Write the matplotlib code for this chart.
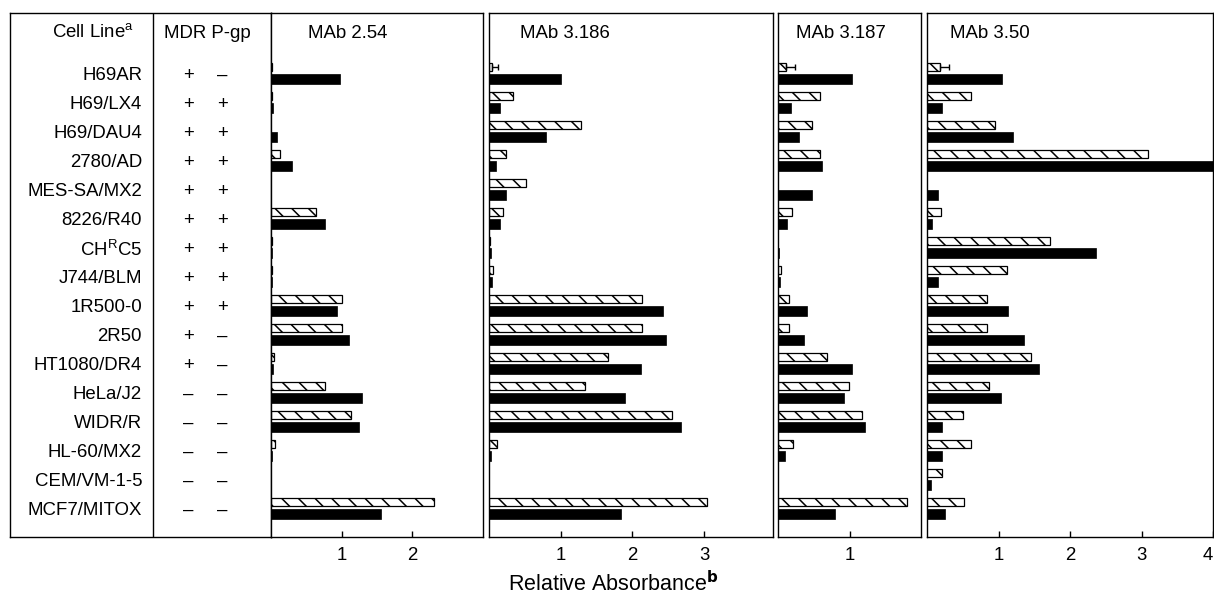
import numpy as np
import matplotlib
matplotlib.use("Agg")
import matplotlib.pyplot as plt

plt.rcParams['font.family'] = ['Liberation Sans', 'DejaVu Sans']
plt.rcParams['hatch.linewidth'] = 1.1

cell_lines = ["H69AR", "H69/LX4", "H69/DAU4", "2780/AD", "MES-SA/MX2", "8226/R40",
              r"CH$^{\mathregular{R}}$C5", "J744/BLM", "1R500-0", "2R50", "HT1080/DR4",
              "HeLa/J2", "WIDR/R", "HL-60/MX2", "CEM/VM-1-5", "MCF7/MITOX"]
mdr = ["+"] * 11 + ["\u2013"] * 5
pgp = ["\u2013", "+", "+", "+", "+", "+", "+", "+", "+", "\u2013", "\u2013",
       "\u2013", "\u2013", "\u2013", "\u2013", "\u2013"]

panel_titles = ["MAb 2.54", "MAb 3.186", "MAb 3.187", "MAb 3.50"]
panel_xmax = [3.0, 3.96, 2.0, 4.0]
panel_ticks = [[1, 2], [1, 2, 3], [1], [1, 2, 3, 4]]

mab254_hatched = [0.02, 0.01, 0.0, 0.13, 0.0, 0.64, 0.02, 0.01, 1.01, 1.01, 0.04, 0.76, 1.13, 0.05, 0.0, 2.31]
mab254_black = [0.97, 0.03, 0.08, 0.30, 0.0, 0.76, 0.02, 0.02, 0.94, 1.10, 0.03, 1.29, 1.24, 0.02, 0.0, 1.56]
mab3186_hatched = [0.04, 0.33, 1.28, 0.24, 0.52, 0.20, 0.02, 0.05, 2.13, 2.13, 1.66, 1.34, 2.55, 0.11, 0.0, 3.04]
mab3186_black = [1.00, 0.15, 0.79, 0.10, 0.24, 0.16, 0.03, 0.04, 2.43, 2.47, 2.12, 1.90, 2.68, 0.03, 0.0, 1.84]
mab3187_hatched = [0.11, 0.59, 0.48, 0.59, 0.0, 0.20, 0.0, 0.04, 0.16, 0.16, 0.68, 0.99, 1.18, 0.21, 0.0, 1.80]
mab3187_black = [1.03, 0.18, 0.30, 0.62, 0.48, 0.13, 0.02, 0.03, 0.41, 0.36, 1.03, 0.92, 1.21, 0.10, 0.0, 0.80]
mab350_hatched = [0.18, 0.62, 0.95, 3.09, 0.0, 0.20, 1.72, 1.12, 0.84, 0.84, 1.45, 0.87, 0.50, 0.62, 0.21, 0.52]
mab350_black = [1.05, 0.21, 1.20, 4.00, 0.16, 0.07, 2.36, 0.15, 1.13, 1.36, 1.57, 1.03, 0.21, 0.21, 0.06, 0.25]
h69ar_hatched_err = [0.0, 0.09, 0.13, 0.13]

hatched_sets = [mab254_hatched, mab3186_hatched, mab3187_hatched, mab350_hatched]
black_sets = [mab254_black, mab3186_black, mab3187_black, mab350_black]

W, H = 1214, 595
fig = plt.figure(figsize=(W / 100, H / 100), dpi=100)
TOP, BOT = 13, 537
ytop = (TOP - 67) / 29.0
ybot = (BOT - 67) / 29.0
n = len(cell_lines)
rows = np.arange(n)
FS = 13.4


def rect(x0, x1):
    return [x0 / W, 1 - BOT / H, (x1 - x0) / W, (BOT - TOP) / H]


# Table part
axt = fig.add_axes(rect(10, 271))
axt.set_xlim(10, 271)
axt.set_ylim(ybot, ytop)
axt.set_xticks([])
axt.set_yticks([])
for s in axt.spines.values():
    s.set_linewidth(1.0)
axt.axvline(153, color='black', lw=1.0)
axt.text(93, (33 - 67) / 29.0, r"Cell Line$^{\mathregular{a}}$", ha='center', va='center', fontsize=FS)
axt.text(207, (33 - 67) / 29.0, "MDR P-gp", ha='center', va='center', fontsize=FS)
for i in range(n):
    yl = i + 0.30
    axt.text(142, yl, cell_lines[i], ha='right', va='center', fontsize=FS)
    axt.text(188, yl, mdr[i], ha='center', va='center', fontsize=FS)
    axt.text(222, yl, pgp[i], ha='center', va='center', fontsize=FS)

panel_px = [(271, 483), (489, 773), (778, 921), (927, 1213)]
title_px = [308, 520, 796, 950]

for k in range(4):
    ax = fig.add_axes(rect(*panel_px[k]))
    ax.set_xlim(0, panel_xmax[k])
    ax.set_ylim(ybot, ytop)
    hv = np.array(hatched_sets[k])
    bv = np.array(black_sets[k])
    mh = hv > 0
    mb = bv > 0
    ax.barh(rows[mh], hv[mh], height=0.27, left=0, color='white', edgecolor='black',
            linewidth=0.9, hatch='\\\\', align='center')
    ax.barh(rows[mb] + 0.40, bv[mb], height=0.34, left=0, color='black', edgecolor='black',
            linewidth=0.5, align='center')
    if h69ar_hatched_err[k] > 0:
        ax.errorbar([hatched_sets[k][0]], [0], xerr=[[0], [h69ar_hatched_err[k]]],
                    fmt='none', ecolor='black', elinewidth=1.0, capsize=2.5, capthick=1.0)
    ax.set_yticks([])
    ax.set_xticks(panel_ticks[k])
    ax.set_xticklabels([str(t) for t in panel_ticks[k]], fontsize=FS)
    ax.tick_params(axis='x', direction='in', length=4, width=1.0, pad=7)
    for s in ax.spines.values():
        s.set_linewidth(1.0)
    if k == 3:
        ax.get_xticklabels()[-1].set_horizontalalignment('right')
    fig.text(title_px[k] / W, 1 - 34 / H, panel_titles[k], ha='left', va='center', fontsize=FS)

fig.text(613 / W, 1 - 584 / H, r"Relative Absorbance$^{\mathbf{b}}$", ha='center', va='center', fontsize=15.5)

fig.savefig("out.png", dpi=100)
